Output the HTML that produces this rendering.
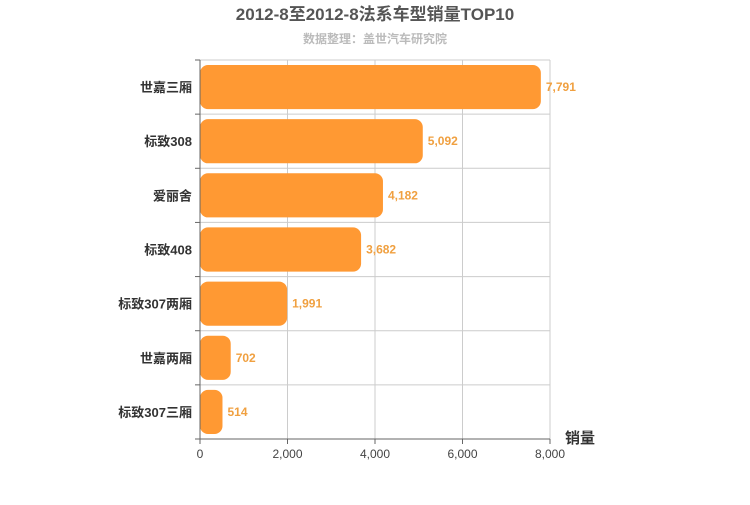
<!DOCTYPE html>
<html><head><meta charset="utf-8"><style>
body{margin:0;background:#fff;font-family:"Liberation Sans","Noto Sans CJK SC",sans-serif;}
svg text{font-family:"Liberation Sans","Noto Sans CJK SC",sans-serif;}
</style></head><body>
<svg id="chart" width="750" height="500">
<text x="375" y="20" text-anchor="middle" font-size="17" font-weight="bold" fill="#555">2012-8至2012-8法系车型销量TOP10</text>
<text x="375" y="43" text-anchor="middle" font-size="12" font-weight="bold" fill="#bbb">数据整理：盖世汽车研究院</text>
<g id="grid"></g><g id="bars"></g><g id="axes"></g>
<text x="580" y="443" text-anchor="middle" font-size="15" font-weight="bold" fill="#333">销量</text>
</svg>
<script>
const categories=["世嘉三厢","标致308","爱丽舍","标致408","标致307两厢","世嘉两厢","标致307三厢"];
const values=[7791,5092,4182,3682,1991,702,514];
const ticks=[0,2000,4000,6000,8000];
const tickLabels=["0","2,000","4,000","6,000","8,000"];
const NS="http://www.w3.org/2000/svg";
const x0=200,x1=550,y0=60,y1=439,maxV=8000;
const xs=v=>x0+(x1-x0)*v/maxV;
const rowH=(y1-y0)/categories.length;
function mk(t,a,p){const e=document.createElementNS(NS,t);for(const k in a)e.setAttribute(k,a[k]);p.appendChild(e);return e;}
const grid=document.getElementById('grid'),bars=document.getElementById('bars'),axes=document.getElementById('axes');
for(let i=0;i<ticks.length;i++){
 const x=xs(ticks[i]);
 if(i>0){const l=mk('line',{x1:x,x2:x,y1:y0,y2:y1,stroke:'#ccc'},grid);
 
 }
 const tk=mk('line',{x1:x,x2:x,y1:y1,y2:y1+5,stroke:'#666'},axes);
 
 
 const t=mk('text',{x:x,y:y1+19,'text-anchor':'middle','font-size':12,fill:'#444'},axes);
 t.textContent=tickLabels[i];
 
 
}
for(let i=0;i<=categories.length;i++){
 const y=y0+rowH*i;
 const l=mk('line',{x1:x0,x2:x1,y1:y,y2:y,stroke:'#ccc'},grid);
 
 
 const tk=mk('line',{x1:x0-5,x2:x0,y1:y,y2:y,stroke:'#666'},axes);
 
 
}
const ya=mk('line',{x1:x0,x2:x0,y1:y0,y2:y1,stroke:'#666'},axes);


const xa=mk('line',{x1:x0,x2:x1,y1:y1,y2:y1,stroke:'#666'},axes);


categories.forEach((c,i)=>{
 const top=y0+rowH*i+5,h=rowH-10,w=xs(values[i])-x0,cy=y0+rowH*(i+0.5);
 const r=mk('rect',{x:x0,y:top,width:w,height:h,rx:Math.min(8,w/2),fill:'#ff9933'},bars);
 
 
 const v=mk('text',{x:xs(values[i])+5,y:cy+4,'font-size':12,'font-weight':'bold',fill:'#f0a040'},bars);
 v.textContent=values[i].toLocaleString('en-US');
 
 
 const t=mk('text',{x:x0-8,y:cy+5,'text-anchor':'end','font-size':13,'font-weight':'bold',fill:'#333'},axes);
 t.textContent=c;
 
 
});
</script>
</body></html>
